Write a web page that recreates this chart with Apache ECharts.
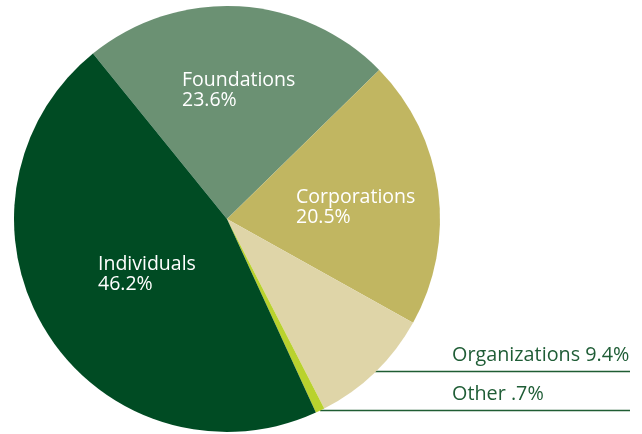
<!DOCTYPE html>
<html>
<head>
<meta charset="utf-8">
<script src="https://cdn.jsdelivr.net/npm/echarts@6/dist/echarts.min.js"></script>
<style>
  html, body { margin: 0; padding: 0; background: #ffffff; }
  #chart { width: 642px; height: 434px; }
</style>
</head>
<body>
<div id="chart"></div>
<script>
// Sources of support, share of total (%)
const categories = ['Foundations', 'Corporations', 'Organizations', 'Other', 'Individuals'];
const shares = [23.6, 20.5, 9.4, 0.7, 46.2];
const sliceColors = ['#6b9173', '#c1b661', '#dfd5a8', '#b9d22e', '#004b23'];
// Slices whose label sits outside the pie, on a leader line
const outsideLabels = ['Organizations', 'Other'];

const fontFamily = '"Open Sans", Lato, sans-serif';
const labelGreen = '#1f5d36';
const lineRight = 630;   // where the leader lines end
const outsideTextX = 452;

// Top-left corner of the label block for slices labelled inside
const insideLabelPos = {
  Foundations: [182, 70],
  Corporations: [296, 187],
  Individuals: [98, 254]
};

function pct(v) {
  return String(v).replace(/^0\./, '.') + '%';
}

const chart = echarts.init(document.getElementById('chart'), null, { renderer: 'canvas' });

const data = categories.map(function (name, i) {
  const outside = outsideLabels.indexOf(name) >= 0;
  return {
    name: name,
    value: shares[i],
    itemStyle: { color: sliceColors[i] },
    label: outside ? {
      position: 'outside',
      formatter: function (p) { return p.name + ' ' + pct(p.value); },
      color: labelGreen,
      fontSize: 19.8,
      lineHeight: 20
    } : {
      position: 'inside',
      formatter: function (p) { return p.name + '\n' + pct(p.value); },
      color: '#ffffff',
      fontSize: 19.5,
      lineHeight: 20,
      align: 'left'
    },
    labelLine: outside ? {
      show: true,
      length: 0,
      length2: 0,
      lineStyle: { color: '#1f5d33', width: 1.5 }
    } : { show: false }
  };
});

chart.setOption({
  animation: false,
  backgroundColor: '#ffffff',
  series: [{
    type: 'pie',
    center: [227, 219],
    radius: 213,
    startAngle: 129,
    clockwise: true,
    avoidLabelOverlap: false,
    silent: true,
    emphasis: { disabled: true },
    itemStyle: { borderWidth: 0 },
    label: { show: true, fontFamily: fontFamily, fontWeight: 400 },
    data: data,
    labelLayout: function (params) {
      const name = categories[params.dataIndex];
      if (outsideLabels.indexOf(name) >= 0) {
        const p0 = params.labelLinePoints ? params.labelLinePoints[0] : [0, 0];
        const y = Math.round(p0[1]) - 0.5;
        return {
          x: outsideTextX,
          y: y - 6,
          align: 'left',
          verticalAlign: 'bottom',
          labelLinePoints: [[p0[0], y], [p0[0], y], [lineRight, y]]
        };
      }
      const pos = insideLabelPos[name];
      return { x: pos[0], y: pos[1], align: 'left', verticalAlign: 'top' };
    }
  }]
});
</script>
</body>
</html>
